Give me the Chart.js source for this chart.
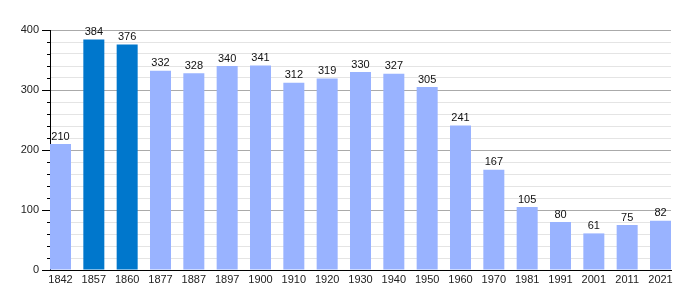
<!DOCTYPE html>
<html>
<head>
<meta charset="utf-8">
<script src="https://cdn.jsdelivr.net/npm/chart.js@4/dist/chart.umd.min.js"></script>
<style>
  html, body { margin: 0; padding: 0; background: #ffffff; }
  #wrap { width: 700px; height: 300px; }
</style>
</head>
<body>
<div id="wrap"><canvas id="c" width="700" height="300"></canvas></div>
<script>
const years = ["1842","1857","1860","1877","1887","1897","1900","1910","1920","1930","1940","1950","1960","1970","1981","1991","2001","2011","2021"];
const population = [210,384,376,332,328,340,341,312,319,330,327,305,241,167,105,80,61,75,82];
const highlighted = ["1857","1860"];
const yTicks = [0,100,200,300,400];

const LIGHT = "#99b3ff";
const DARK = "#0077cc";
const FONT = "'Liberation Sans', Arial, sans-serif";

const valueLabels = {
  id: "valueLabels",
  afterDatasetsDraw(chart) {
    const ctx = chart.ctx;
    const meta = chart.getDatasetMeta(0);
    ctx.save();
    ctx.font = "11px " + FONT;
    ctx.fillStyle = "#111";
    ctx.textAlign = "center";
    ctx.textBaseline = "bottom";
    meta.data.forEach((bar, i) => {
      ctx.fillText(String(population[i]), bar.x, bar.y - 2);
    });
    ctx.restore();
  }
};

const minorTicks = {
  id: "minorTicks",
  afterDraw(chart) {
    const y = chart.scales.y;
    const ctx = chart.ctx;
    const x0 = chart.chartArea.left;
    ctx.save();
    ctx.strokeStyle = "#000";
    ctx.lineWidth = 1;
    y.ticks.forEach(t => {
      if (t.value % 100 !== 0) {
        const py = Math.round(y.getPixelForValue(t.value)) + 0.5;
        ctx.beginPath();
        ctx.moveTo(x0 - 3, py);
        ctx.lineTo(x0, py);
        ctx.stroke();
      }
    });
    ctx.restore();
  }
};

const bg = {
  id: "bg",
  beforeDraw(chart) {
    const ctx = chart.ctx;
    ctx.save();
    ctx.fillStyle = "#fff";
    ctx.fillRect(0, 0, chart.width, chart.height);
    ctx.restore();
  }
};

new Chart(document.getElementById("c"), {
  type: "bar",
  data: {
    datasets: [{
      data: population.map((v, i) => ({ x: i, y: v })),
      backgroundColor: years.map(y => highlighted.includes(y) ? DARK : LIGHT),
      borderWidth: 0,
      categoryPercentage: 1,
      barPercentage: 0.63
    }]
  },
  options: {
    responsive: false,
    animation: false,
    events: [],
    layout: { padding: { top: 30, right: 29, left: 0, bottom: 0 } },
    plugins: { legend: { display: false }, tooltip: { enabled: false } },
    scales: {
      x: {
        type: "linear",
        offset: false,
        min: -0.315,
        max: years.length - 1 + 0.315,
        afterBuildTicks(scale) {
          scale.ticks = years.map((_, i) => ({ value: i }));
        },
        afterFit(scale) { scale.height = 30; },
        grid: { display: false, drawTicks: false, offset: false },
        border: { display: true, color: "#000", width: 1 },
        ticks: {
          autoSkip: false,
          maxRotation: 0,
          padding: 3,
          color: "#222",
          font: { family: FONT, size: 11 },
          callback: (v) => years[v] !== undefined ? years[v] : ""
        }
      },
      y: {
        min: 0,
        max: 400,
        afterBuildTicks(scale) {
          const t = [];
          for (let v = 0; v <= 400; v += 20) t.push({ value: v });
          scale.ticks = t;
        },
        afterFit(scale) { scale.width = 50; },
        border: { display: true, color: "#000", width: 1 },
        grid: {
          color: (c) => (c.tick && c.tick.value % 100 === 0) ? "#aaaaaa" : "#e4e4e4",
          tickColor: (c) => (c.tick && c.tick.value % 100 === 0) ? "#000" : "rgba(0,0,0,0)",
          tickLength: 8,
          lineWidth: 1
        },
        ticks: {
          padding: 3,
          color: "#222",
          font: { family: FONT, size: 11 },
          autoSkip: false,
          callback: (v) => yTicks.includes(v) ? String(v) : ""
        }
      }
    }
  },
  plugins: [bg, valueLabels, minorTicks]
});
</script>
</body>
</html>
